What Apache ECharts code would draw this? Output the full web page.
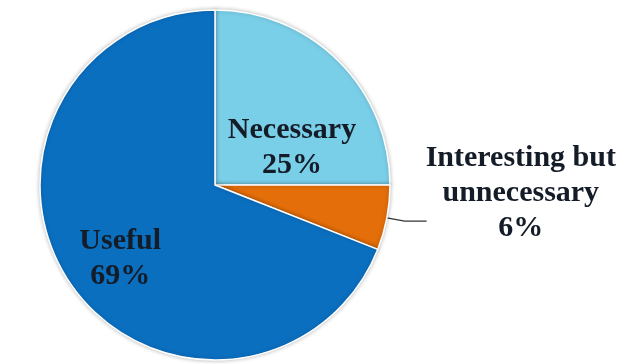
<!DOCTYPE html>
<html lang="en">
  <head>
    <meta charset="UTF-8" />
    <title>Pie</title>
    <script src="https://cdn.jsdelivr.net/npm/echarts@6/dist/echarts.min.js"></script>
    <style>
      html, body { margin: 0; padding: 0; background: #fff; }
      #chart { width: 628px; height: 364px; }
    </style>
  </head>
  <body>
    <div id="chart"></div>
    <script>
      // data
      var categories = ["Necessary", "Interesting but\nunnecessary", "Useful"];
      var values = [25, 6, 69];
      var colors = ["#7ACFE8", "#E46E0A", "#0B6FC0"];
      // label nudges (dx, dy) from the default spot
      var labelShift = [[13, 27], [-4, -28], [-20, 23]];

      var chart = echarts.init(document.getElementById("chart"));
      var data = categories.map(function (name, i) {
        return {
          name: name,
          value: values[i],
          itemStyle: { color: colors[i] },
          label: { position: i === 1 ? "outside" : "inside" }
        };
      });

      var option = {
        animation: false,
        backgroundColor: "#fff",
        series: [
          {
            type: "pie",
            center: [215, 185],
            radius: 175,
            startAngle: 90,
            clockwise: true,
            data: data,
            itemStyle: {
              borderColor: "#fff",
              borderWidth: 1.5,
              shadowBlur: 4,
              shadowColor: "rgba(0,0,0,0.25)"
            },
            label: {
              overflow: "none",
              formatter: function (p) {
                var lines = (p.name + "\n" + p.value + "%").split("\n");
                return lines.map(function (s) { return "{t|" + s + "}"; }).join("\n");
              },
              rich: {
                t: {
                  fontFamily: "Liberation Serif",
                  fontWeight: "bold",
                  fontSize: 30,
                  lineHeight: 35,
                  color: "#141c28",
                  align: "center"
                }
              }
            },
            labelLine: {
              show: true,
              length: 18,
              length2: 22,
              lineStyle: { color: "#333", width: 1.2 }
            },
            labelLayout: function (params) {
              var s = labelShift[params.dataIndex];
              return { dx: s[0], dy: s[1] };
            }
          }
        ]
      };
      chart.setOption(option, true);
    </script>
  </body>
</html>
